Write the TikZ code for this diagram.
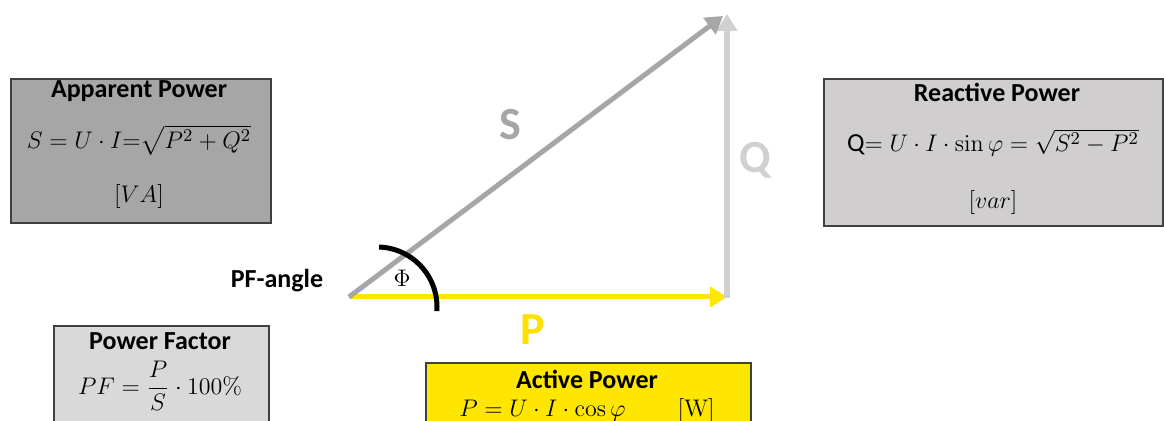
\documentclass[tikz,border=0pt]{standalone}
\usepackage{amsmath}
\usepackage[no-math]{fontspec}
\setmainfont{Carlito}
\usetikzlibrary{arrows.meta}
\definecolor{grA}{HTML}{A6A6A6}
\definecolor{grB}{HTML}{D0CECE}
\definecolor{grC}{HTML}{D9D9D9}
\definecolor{yel}{HTML}{FFE600}
\definecolor{yelT}{HTML}{FFE000}
\definecolor{grQ}{HTML}{D0D0D0}
\definecolor{edge}{HTML}{404040}
\tikzset{
  box/.style={draw=edge, line width=0.8pt, anchor=north west, inner sep=0pt},
  ttl/.style={font=\fontsize{13}{15}\selectfont\bfseries, inner sep=0pt},
  frm/.style={font=\fontsize{13}{15}\selectfont, inner sep=0pt},
  big/.style={font=\fontsize{23}{26}\selectfont\bfseries, inner sep=0pt},
  vec/.style={-{Triangle[length=8.5pt,width=10pt]}},
}
\begin{document}
\begin{tikzpicture}[x=0.5pt,y=0.5pt]
\useasboundingbox (0,0) rectangle (1164,421);
\clip (0,0) rectangle (1164,421);
% boxes
\node[box, fill=grA, minimum width=130pt, minimum height=72pt] (appbox) at (10,343) {};
\node[box, fill=grB, minimum width=169.5pt, minimum height=73.5pt] (reabox) at (823,343) {};
\node[box, fill=grC, minimum width=107.5pt, minimum height=63pt] (pfbox) at (53,96) {};
\node[box, fill=yel, minimum width=162.5pt, minimum height=45pt] (actbox) at (425,59) {};
% texts
\node[ttl] (appt) at (139,330) {Apparent Power};
\node[frm] (appf) at (139,281) {$S=U\cdot I{=}\sqrt{P^2+Q^2}$};
\node[frm] (appu) at (139,224) {$[VA]$};
\node[ttl] (reat) at (997,329) {Reactive Power};
\node[frm] (reaf) at (993,278) {Q$=U\cdot I\cdot\sin\varphi=\sqrt{S^2-P^2}$};
\node[frm] (reau) at (993,218) {$[var]$};
\node[ttl] (pft) at (160,80) {Power Factor};
\node[frm] (pff) at (160,35) {$PF=\dfrac{P}{S}\cdot 100\%$};
\node[ttl] (actt) at (587,42) {Active Power};
\node[frm] (actf) at (587,10) {$P=U\cdot I\cdot\cos\varphi$\hspace{26pt}$[\mathrm{W}]$};
% triangle
\coordinate (o) at (349,124);
\coordinate (ptip) at (727,124);
\coordinate (qbase) at (727,123);
\coordinate (qtip) at (727,407);
\coordinate (stip) at (723,405);
\draw[vec, draw=yel, fill=yel, line width=2.5pt] (o) -- (ptip);
\draw[vec, draw=grQ, fill=grQ, line width=3pt] (qbase) -- (qtip);
\draw[vec, draw=grA, fill=grA, line width=2.5pt] (o) -- (stip);
% angle arc
\coordinate (arcc) at (377,114);
\draw[line width=2.5pt] ([shift={(arcc)}]88:60) arc[start angle=88, end angle=-4, radius=60];
\node[frm] (phi) at (402,143) {$\Phi$};
\node[ttl] (pfa) at (277,140) {PF-angle};
% vector labels
\node[big, text=grA] (slab) at (510,296) {S};
\node[big, text=grQ] (qlab) at (755,261) {Q};
\node[big, text=yelT] (plab) at (533,91) {P};
\end{tikzpicture}
\end{document}
